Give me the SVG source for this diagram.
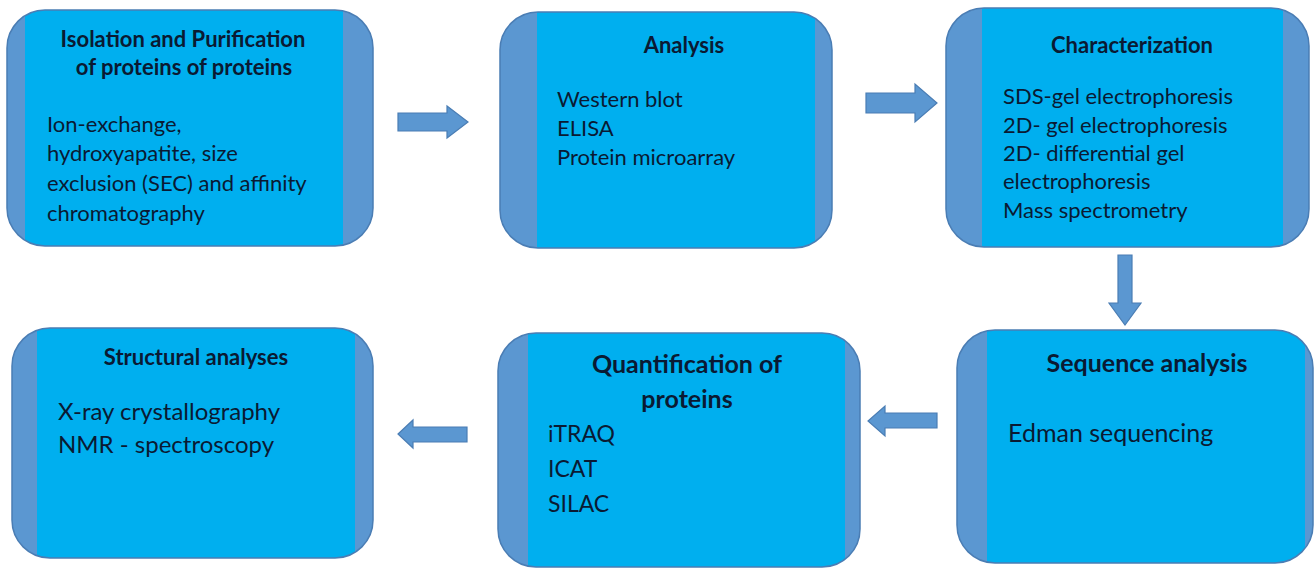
<svg xmlns="http://www.w3.org/2000/svg" width="1315" height="568" viewBox="0 0 1315 568">
<style>
.outer{fill:#5B97D1;}
.inner{fill:#00AFEF;}
.edge{fill:none;stroke:#4A7DB4;stroke-width:1.5;}
.arrow{fill:#5B97D1;stroke:#4A7DB4;stroke-width:1.2;}
text{font-family:Lato,"Open Sans","Liberation Sans",sans-serif;fill:#0A1A33;}
.t{font-weight:bold;font-size:22px;text-anchor:middle;}
.b{font-size:22px;}
.t2{font-weight:bold;font-size:25px;text-anchor:middle;}
.b2{font-size:24px;}
.b3{font-size:23px;}
.b4{font-size:25px;}
</style>
<defs>
<clipPath id="c1"><rect x="7" y="10" width="366" height="236" rx="38"/></clipPath>
<clipPath id="c2"><rect x="500" y="12" width="332" height="236" rx="38"/></clipPath>
<clipPath id="c3"><rect x="946" y="8" width="363" height="239" rx="38"/></clipPath>
<clipPath id="c4"><rect x="12" y="328" width="361" height="230" rx="38"/></clipPath>
<clipPath id="c5"><rect x="498" y="333" width="362" height="234" rx="38"/></clipPath>
<clipPath id="c6"><rect x="957" y="330" width="356" height="233" rx="38"/></clipPath>
</defs>

<g id="connectors">
<polygon class="arrow" points="398,113 447,113 447,106 468,122 447,138 447,131 398,131"/>
<polygon class="arrow" points="866,93 915,93 915,84 937,103 915,122 915,113 866,113"/>
<polygon class="arrow" points="1118,255 1132,255 1132,303 1141,303 1125,325 1109,303 1118,303"/>
<polygon class="arrow" points="937,413 885,413 885,406 868,421 885,436 885,428 937,428"/>
<polygon class="arrow" points="467,427 413,427 413,420 398,434 413,448 413,442 467,442"/>
</g>

<g id="node-isolation">
<rect class="outer" x="7" y="10" width="366" height="236" rx="38"/>
<rect class="inner" x="25" y="10" width="318" height="236" clip-path="url(#c1)"/>
<rect class="edge" x="7" y="10" width="366" height="236" rx="38"/>
<text class="t" x="183" y="47">Isolation and Purification</text>
<text class="t" x="184" y="75">of proteins of proteins</text>
<text class="b" x="47" y="132">Ion-exchange,</text>
<text class="b" x="47" y="161">hydroxyapatite, size</text>
<text class="b" x="47" y="191">exclusion (SEC) and affinity</text>
<text class="b" x="47" y="221">chromatography</text>
</g>

<g id="node-analysis">
<rect class="outer" x="500" y="12" width="332" height="236" rx="38"/>
<rect class="inner" x="537" y="12" width="278" height="236" clip-path="url(#c2)"/>
<rect class="edge" x="500" y="12" width="332" height="236" rx="38"/>
<text class="t" x="684" y="53">Analysis</text>
<text class="b" x="557" y="107">Western blot</text>
<text class="b" x="557" y="136">ELISA</text>
<text class="b" x="557" y="165">Protein microarray</text>
</g>

<g id="node-characterization">
<rect class="outer" x="946" y="8" width="363" height="239" rx="38"/>
<rect class="inner" x="982" y="8" width="301" height="239" clip-path="url(#c3)"/>
<rect class="edge" x="946" y="8" width="363" height="239" rx="38"/>
<text class="t" x="1132" y="53">Characterization</text>
<text class="b" x="1003" y="104">SDS-gel electrophoresis</text>
<text class="b" x="1003" y="133">2D- gel electrophoresis</text>
<text class="b" x="1003" y="161">2D- differential gel</text>
<text class="b" x="1003" y="189">electrophoresis</text>
<text class="b" x="1003" y="218">Mass spectrometry</text>
</g>

<g id="node-sequence">
<rect class="outer" x="957" y="330" width="356" height="233" rx="38"/>
<rect class="inner" x="987" y="330" width="318" height="233" clip-path="url(#c6)"/>
<rect class="edge" x="957" y="330" width="356" height="233" rx="38"/>
<text class="t2" x="1147" y="372">Sequence analysis</text>
<text class="b4" x="1008" y="442">Edman sequencing</text>
</g>

<g id="node-quantification">
<rect class="outer" x="498" y="333" width="362" height="234" rx="38"/>
<rect class="inner" x="528" y="333" width="317" height="234" clip-path="url(#c5)"/>
<rect class="edge" x="498" y="333" width="362" height="234" rx="38"/>
<text class="t2" x="687" y="373">Quantification of</text>
<text class="t2" x="687" y="408">proteins</text>
<text class="b3" x="548" y="442">iTRAQ</text>
<text class="b3" x="548" y="477">ICAT</text>
<text class="b3" x="548" y="512">SILAC</text>
</g>

<g id="node-structural">
<rect class="outer" x="12" y="328" width="361" height="230" rx="38"/>
<rect class="inner" x="37" y="328" width="318" height="230" clip-path="url(#c4)"/>
<rect class="edge" x="12" y="328" width="361" height="230" rx="38"/>
<text class="t" x="196" y="365">Structural analyses</text>
<text class="b2" x="58" y="420">X-ray crystallography</text>
<text class="b2" x="58" y="453">NMR - spectroscopy</text>
</g>
</svg>
